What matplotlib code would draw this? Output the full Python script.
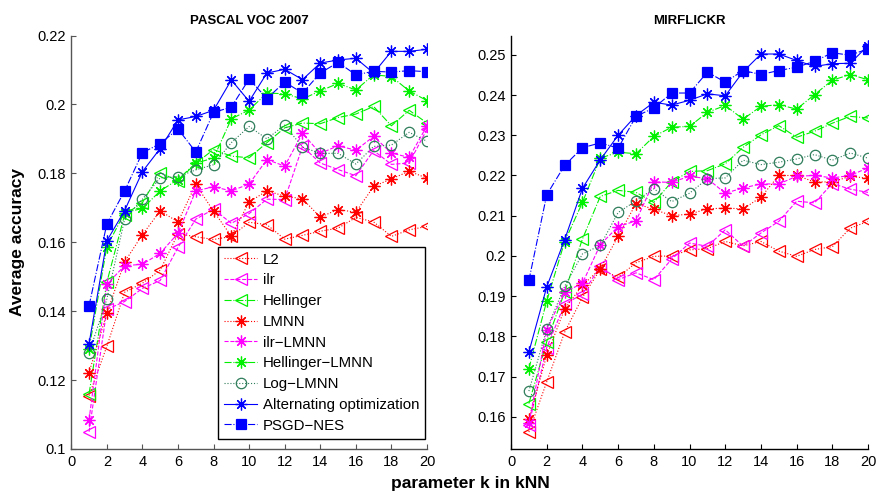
import matplotlib.pyplot as plt
import numpy as np

plt.rcParams['font.family'] = ['Liberation Sans', 'DejaVu Sans']

k = np.arange(1, 21)

methods = ['L2', 'ilr', 'Hellinger', 'LMNN', 'ilr\u2212LMNN', 'Hellinger\u2212LMNN',
           'Log\u2212LMNN', 'Alternating optimization', 'PSGD\u2212NES']

# PASCAL VOC 2007
voc_l2 = [0.1155, 0.1298, 0.1455, 0.1481, 0.1519, 0.1625, 0.1616, 0.1608, 0.1617, 0.1658,
          0.1651, 0.1609, 0.1620, 0.1632, 0.1641, 0.1672, 0.1659, 0.1617, 0.1636, 0.1646]
voc_ilr = [0.1050, 0.1405, 0.1428, 0.1466, 0.1489, 0.1585, 0.1667, 0.1696, 0.1655, 0.1683,
           0.1725, 0.1724, 0.1878, 0.1830, 0.1811, 0.1793, 0.1866, 0.1826, 0.1830, 0.1928]
voc_hell = [0.1160, 0.1484, 0.1680, 0.1715, 0.1802, 0.1778, 0.1829, 0.1869, 0.1850, 0.1845,
            0.1889, 0.1932, 0.1946, 0.1944, 0.1962, 0.1972, 0.1994, 0.1938, 0.1983, 0.1946]
voc_lmnn = [0.1222, 0.1394, 0.1543, 0.1622, 0.1691, 0.1659, 0.1768, 0.1690, 0.1618, 0.1717,
            0.1749, 0.1734, 0.1726, 0.1673, 0.1695, 0.1687, 0.1762, 0.1784, 0.1806, 0.1786]
voc_ilr_lmnn = [0.1085, 0.1478, 0.1532, 0.1536, 0.1568, 0.1626, 0.1749, 0.1761, 0.1749, 0.1769,
                0.1840, 0.1821, 0.1916, 0.1858, 0.1880, 0.1867, 0.1907, 0.1859, 0.1846, 0.1938]
voc_hell_lmnn = [0.1290, 0.1587, 0.1686, 0.1698, 0.1749, 0.1782, 0.1830, 0.1844, 0.1958, 0.1984,
                 0.2033, 0.2031, 0.2016, 0.2039, 0.2061, 0.2042, 0.2086, 0.2081, 0.2039, 0.2011]
voc_log_lmnn = [0.1279, 0.1435, 0.1667, 0.1725, 0.1787, 0.1790, 0.1810, 0.1825, 0.1889, 0.1936,
                0.1900, 0.1940, 0.1876, 0.1858, 0.1858, 0.1827, 0.1878, 0.1882, 0.1919, 0.1893]
voc_alt = [0.1306, 0.1604, 0.1692, 0.1805, 0.1872, 0.1955, 0.1965, 0.1983, 0.2071, 0.2009,
           0.2091, 0.2102, 0.2072, 0.2120, 0.2129, 0.2134, 0.2091, 0.2154, 0.2154, 0.2160]
voc_psgd = [0.1416, 0.1653, 0.1749, 0.1860, 0.1886, 0.1929, 0.1862, 0.1977, 0.1992, 0.2074,
            0.2017, 0.2065, 0.2033, 0.2091, 0.2122, 0.2086, 0.2096, 0.2094, 0.2098, 0.2095]

# MIRFLICKR
mir_l2 = [0.1562, 0.1687, 0.1810, 0.1897, 0.1967, 0.1947, 0.1983, 0.1999, 0.2000, 0.2015,
          0.2018, 0.2036, 0.2025, 0.2036, 0.2012, 0.1999, 0.2016, 0.2023, 0.2069, 0.2086]
mir_ilr = [0.1580, 0.1772, 0.1880, 0.1905, 0.1974, 0.1941, 0.1958, 0.1941, 0.1992, 0.2032,
           0.2024, 0.2065, 0.2024, 0.2057, 0.2086, 0.2136, 0.2132, 0.2180, 0.2166, 0.2158]
mir_hell = [0.1633, 0.1787, 0.1910, 0.2042, 0.2148, 0.2163, 0.2158, 0.2133, 0.2184, 0.2210,
            0.2212, 0.2229, 0.2270, 0.2301, 0.2324, 0.2295, 0.2310, 0.2330, 0.2347, 0.2343]
mir_lmnn = [0.1594, 0.1753, 0.1868, 0.1927, 0.1968, 0.2049, 0.2130, 0.2116, 0.2100, 0.2104,
            0.2117, 0.2119, 0.2117, 0.2146, 0.2200, 0.2200, 0.2184, 0.2184, 0.2198, 0.2193]
mir_ilr_lmnn = [0.1584, 0.1816, 0.1910, 0.1932, 0.2028, 0.2073, 0.2087, 0.2184, 0.2183, 0.2198,
                0.2192, 0.2156, 0.2169, 0.2179, 0.2179, 0.2198, 0.2200, 0.2194, 0.2200, 0.2219]
mir_hell_lmnn = [0.1720, 0.1888, 0.2035, 0.2133, 0.2243, 0.2258, 0.2254, 0.2297, 0.2320, 0.2322,
                 0.2357, 0.2374, 0.2340, 0.2372, 0.2376, 0.2365, 0.2401, 0.2437, 0.2451, 0.2438]
mir_log_lmnn = [0.1664, 0.1818, 0.1924, 0.2005, 0.2026, 0.2108, 0.2137, 0.2167, 0.2135, 0.2156,
                0.2192, 0.2194, 0.2238, 0.2227, 0.2233, 0.2241, 0.2252, 0.2238, 0.2256, 0.2243]
mir_alt = [0.1761, 0.1923, 0.2040, 0.2168, 0.2239, 0.2300, 0.2349, 0.2382, 0.2375, 0.2387,
           0.2403, 0.2398, 0.2458, 0.2502, 0.2502, 0.2486, 0.2471, 0.2478, 0.2479, 0.2523]
mir_psgd = [0.1939, 0.2152, 0.2225, 0.2269, 0.2281, 0.2268, 0.2347, 0.2368, 0.2405, 0.2405,
            0.2457, 0.2432, 0.2461, 0.2451, 0.2461, 0.2469, 0.2484, 0.2505, 0.2499, 0.2515]

xticks = [0, 2, 4, 6, 8, 10, 12, 14, 16, 18, 20]
voc_yticks = [0.10, 0.12, 0.14, 0.16, 0.18, 0.20, 0.22]
voc_yticklabels = ['0.1', '0.12', '0.14', '0.16', '0.18', '0.2', '0.22']
mir_yticks = [0.16, 0.17, 0.18, 0.19, 0.20, 0.21, 0.22, 0.23, 0.24, 0.25]
mir_yticklabels = ['0.16', '0.17', '0.18', '0.19', '0.2', '0.21', '0.22', '0.23', '0.24', '0.25']

# style per method: color, linestyle, marker, filled
aster = (8, 2, 0)
styles = [
    ('#ff0000', ':', '<', False),
    ('#ff00ff', '--', '<', False),
    ('#00f000', '-.', '<', False),
    ('#ff0000', ':', aster, False),
    ('#ff00ff', '--', aster, False),
    ('#00f000', '-.', aster, False),
    ('#2e7d5b', ':', 'o', False),
    ('#0000ff', '-', aster, False),
    ('#0000ff', '-.', 's', True),
]
marker_sizes = {'s': 6.5, 'o': 7.5, '<': 8.5}


def draw_panel(ax, series, title, yticks, yticklabels, ylim, spine_color):
    for (color, ls, mk, filled), vals, name in zip(styles, series, methods):
        ms = marker_sizes.get(mk, 8.5) if isinstance(mk, str) else 8.5
        ax.plot(k, vals, color=color, linestyle=ls, linewidth=0.8, marker=mk,
                markersize=ms, markeredgewidth=0.9,
                markerfacecolor=color if filled else 'none',
                markeredgecolor=color, label=name)
    ax.set_xlim(0, 20)
    ax.set_ylim(*ylim)
    ax.set_xticks(xticks)
    ax.set_xticklabels([str(t) for t in xticks])
    ax.set_yticks(yticks)
    ax.set_yticklabels(yticklabels)
    ax.tick_params(direction='in', length=3.5, width=0.8, labelsize=10.5,
                   labelcolor='black', pad=4)
    for side in ['top', 'right']:
        ax.spines[side].set_visible(False)
    for side in ['left', 'bottom']:
        ax.spines[side].set_color(spine_color)
        ax.spines[side].set_linewidth(1.0)
    ax.tick_params(color=spine_color)
    ax.set_title(title, fontsize=9.5, fontweight='bold', pad=8)


fig = plt.figure(figsize=(8.82, 4.98), dpi=100)
ax1 = fig.add_axes([0.0808, 0.0984, 0.4033, 0.8303])
ax2 = fig.add_axes([0.5794, 0.0984, 0.4048, 0.8303])

draw_panel(ax1, [voc_l2, voc_ilr, voc_hell, voc_lmnn, voc_ilr_lmnn, voc_hell_lmnn,
                 voc_log_lmnn, voc_alt, voc_psgd],
           'PASCAL VOC 2007', voc_yticks, voc_yticklabels, (0.1, 0.22), '#555555')
draw_panel(ax2, [mir_l2, mir_ilr, mir_hell, mir_lmnn, mir_ilr_lmnn, mir_hell_lmnn,
                 mir_log_lmnn, mir_alt, mir_psgd],
           'MIRFLICKR', mir_yticks, mir_yticklabels, (0.152, 0.2548), 'black')

ax1.set_ylabel('Average accuracy', fontsize=12.5, fontweight='bold', labelpad=9)

leg = ax1.legend(loc='lower right', bbox_to_anchor=(0.995, 0.025), fontsize=10.8,
                 frameon=True, fancybox=False, edgecolor='black', framealpha=1,
                 handlelength=2.2, handletextpad=0.35, labelspacing=0.45,
                 borderpad=0.4, borderaxespad=0)
leg.get_frame().set_linewidth(1.0)

fig.text(0.533, 0.03, 'parameter k in kNN', ha='center', va='center',
         fontsize=12.5, fontweight='bold')

fig.savefig('out.png', dpi=100)
